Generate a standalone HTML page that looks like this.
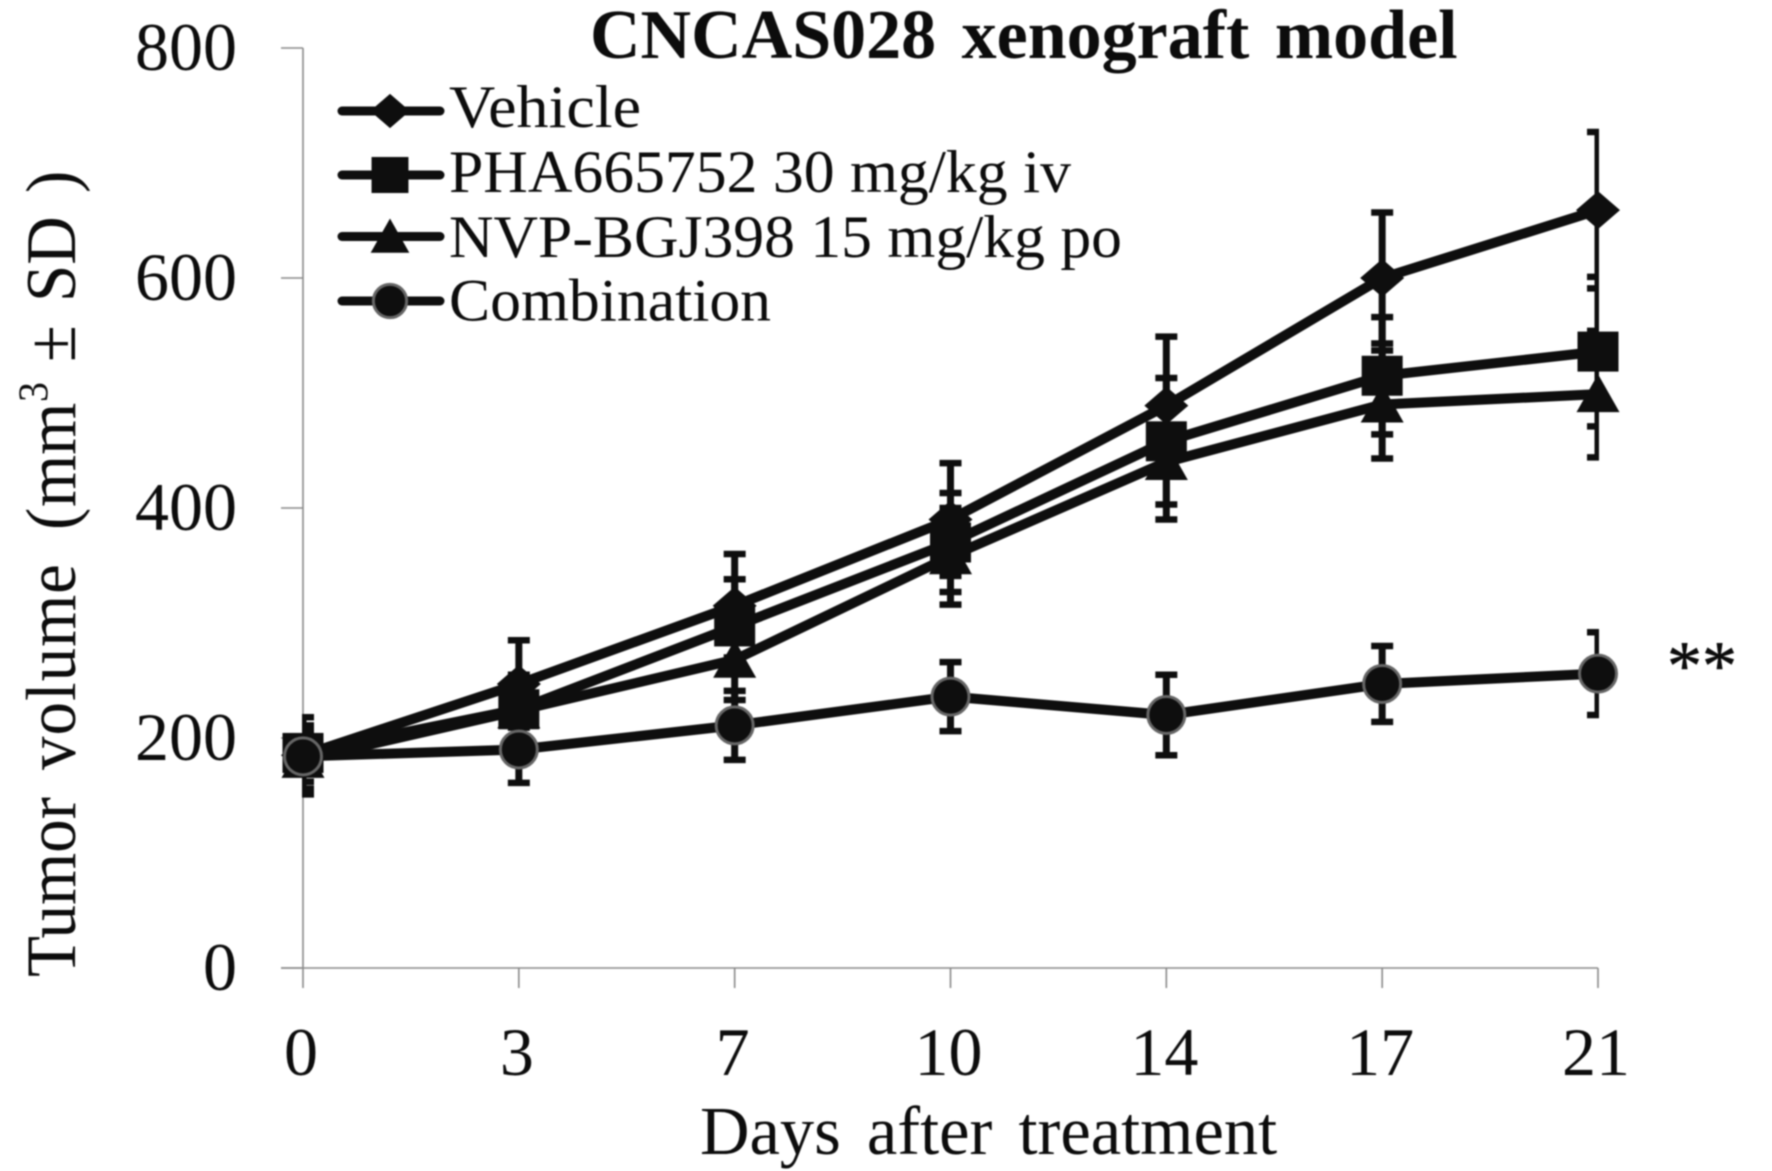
<!DOCTYPE html>
<html lang="en">
<head>
<meta charset="utf-8">
<title>CNCAS028 xenograft model</title>
<style>
html,body{margin:0;padding:0;background:#fff;width:1772px;height:1171px;overflow:hidden}
svg{display:block;filter:blur(0.7px)}
text{font-family:"Liberation Serif",serif;fill:#0c0c0c}
</style>
</head>
<body>
<svg id="chart" xmlns="http://www.w3.org/2000/svg" width="1772" height="1171" viewBox="0 0 1772 1171">
  <defs><clipPath id="plot-clip"><rect x="302" y="0" width="1297" height="1171"/></clipPath></defs>
  <rect x="0" y="0" width="1772" height="1171" fill="#fff"/>
  <text x="590" y="58" font-size="70" font-weight="700" word-spacing="8">CNCAS028 xenograft model</text>
  <text transform="translate(75,977) rotate(-90) scale(1,1.06)" font-size="67"><tspan x="0">Tumor</tspan><tspan x="207" letter-spacing="1">volume</tspan><tspan x="447">(</tspan><tspan x="470">mm</tspan><tspan x="575" font-size="40" dy="-26">3</tspan><tspan x="615" dy="26">±</tspan><tspan x="675">SD</tspan><tspan x="784">)</tspan></text>
  <text x="700" y="1154" font-size="68.5" word-spacing="9">Days after treatment</text>
  <text x="1667" y="689" font-size="70" stroke="#0c0c0c" stroke-width="0.6">**</text>
  <g id="axes"></g>
  <g id="series"></g>
  <g id="legend"></g>
</svg>
<script>
const days = ['0','3','7','10','14','17','21'];
const yTicks = [0,200,400,600,800];

const vehicleLabel = 'Vehicle';
const vehicleMean = [185,247,315,390,489,600,659];
const vehicleSd = [33,38,45,49,60,57,68];

const phaLabel = 'PHA665752 30 mg/kg iv';
const phaMean = [187,225,297,370,458,515,536];
const phaSd = [31,30,41,43,55,51,65];

const nvpLabel = 'NVP-BGJ398 15 mg/kg po';
const nvpMean = [181,224,268,358,440,490,499];
const nvpSd = [30,28,35,42,50,47,55];

const comboLabel = 'Combination';
const comboMean = [184,190,211,236,220,247,256];
const comboSd = [22,29,30,30,35,33,36];

const NS = 'http://www.w3.org/2000/svg';
const INK = '#0e0e0e';
function xPos(i){ return 303 + i * (1598 - 303) / (days.length - 1); }
function yPos(v){ return 968 - v * (968 - 48) / 800; }
function make(tag, parent, attrs){
  const n = document.createElementNS(NS, tag);
  for (const k in attrs) n.setAttribute(k, attrs[k]);
  parent.appendChild(n);
  return n;
}
function drawMarker(kind, parent, cx, cy, scale){
  const s = scale || 1;
  let m;
  if (kind === 'diamond') {
    m = make('polygon', parent, {points:[[cx,cy-19*s],[cx+22*s,cy],[cx,cy+19*s],[cx-22*s,cy]].join(' '), fill:INK});
  } else if (kind === 'square') {
    m = make('rect', parent, {x:cx-20.5*s, y:cy-20*s, width:41*s, height:40*s, fill:INK});
  } else if (kind === 'triangle') {
    m = make('polygon', parent, {points:[[cx,cy-20*s],[cx+21.5*s,cy+18*s],[cx-21.5*s,cy+18*s]].join(' '), fill:INK});
  } else {
    m = make('circle', parent, {cx:cx, cy:cy, r:18.5*s, fill:INK, stroke:'#666', 'stroke-width':3});
  }
  return m;
}

const axes = document.getElementById('axes');
const axisAttrs = {stroke:'#8a8a8a', 'stroke-width':1.6};
const yLine = make('line', axes, Object.assign({x1:303, x2:303, y1:yPos(800), y2:yPos(0)}, axisAttrs));


const xLine = make('line', axes, Object.assign({x1:281, x2:xPos(days.length-1), y1:yPos(0), y2:yPos(0)}, axisAttrs));



yTicks.forEach(function(v){
  const t = make('line', axes, Object.assign({x1:281, x2:303, y1:yPos(v), y2:yPos(v)}, axisAttrs));
  
  
  const l = make('text', axes, {x:237, y:yPos(v) + 22, 'font-size':68, 'text-anchor':'end'});
  l.textContent = String(v);
  
  
});
days.forEach(function(d, i){
  const t = make('line', axes, Object.assign({x1:xPos(i), x2:xPos(i), y1:yPos(0), y2:988}, axisAttrs));
  
  
  const l = make('text', axes, {x:xPos(i) - 2, y:1075, 'font-size':68, 'text-anchor':'middle'});
  l.textContent = d;
  
  
});

const seriesLayer = document.getElementById('series');
function drawSeries(name, kind, mean, sd){
  const g = make('g', seriesLayer, {});
  
  
  const err = make('g', g, {'clip-path':'url(#plot-clip)', stroke:INK, fill:'none'});
  
  
  mean.forEach(function(v, i){
    const x = xPos(i), top = yPos(v + sd[i]), bot = yPos(v - sd[i]);
    make('line', err, {x1:x, x2:x, y1:top, y2:bot, 'stroke-width':7});
    make('line', err, {x1:x-11, x2:x+11, y1:top, y2:top, 'stroke-width':6.5});
    make('line', err, {x1:x-11, x2:x+11, y1:bot, y2:bot, 'stroke-width':6.5});
  });
  const pts = mean.map(function(v, i){ return xPos(i) + ',' + yPos(v); }).join(' ');
  const line = make('polyline', g, {points:pts, fill:'none', stroke:INK, 'stroke-width':10, 'stroke-linejoin':'round'});
  
  
  mean.forEach(function(v, i){
    const m = drawMarker(kind, g, xPos(i), yPos(v));
    
    
  });
}
drawSeries('vehicle', 'diamond', vehicleMean, vehicleSd);
drawSeries('pha665752', 'square', phaMean, phaSd);
drawSeries('nvp-bgj398', 'triangle', nvpMean, nvpSd);
drawSeries('combination', 'circle', comboMean, comboSd);

const legend = document.getElementById('legend');
function drawLegendEntry(name, kind, label, lineY, baseY, textEnd){
  const g = make('g', legend, {});
  
  
  make('line', g, {x1:342, x2:440, y1:lineY, y2:lineY, stroke:INK, 'stroke-width':9, 'stroke-linecap':'round'});
  drawMarker(kind, g, 390, lineY, 0.9);
  const t = make('text', g, {x:449, y:baseY, 'font-size':60, textLength:textEnd - 449, lengthAdjust:'spacingAndGlyphs'});
  t.textContent = label;
  
  
}
drawLegendEntry('vehicle', 'diamond', vehicleLabel, 111, 127, 641);
drawLegendEntry('pha665752', 'square', phaLabel, 175, 192, 1071);
drawLegendEntry('nvp-bgj398', 'triangle', nvpLabel, 236.5, 257, 1122);
drawLegendEntry('combination', 'circle', comboLabel, 301, 320.5, 771);
</script>
</body>
</html>
